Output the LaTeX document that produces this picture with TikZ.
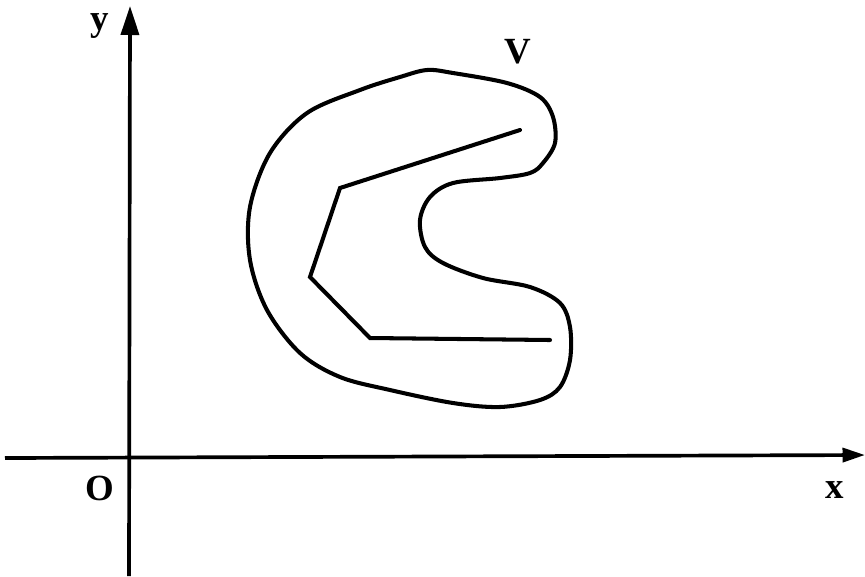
\documentclass[tikz,border=0pt]{standalone}
\usepackage{fontspec}
\setmainfont{Liberation Serif}
\usetikzlibrary{arrows.meta}

\begin{document}
\begin{tikzpicture}[
        x=0.02cm, y=-0.02cm,
        font=\fontsize{21}{25}\selectfont\bfseries,
        axis/.style={line width=2.1pt, black},
        curve/.style={line width=2.3pt, black, line join=round, line cap=round},
        lab/.style={inner sep=0pt, anchor=center}
    ]
    \useasboundingbox (0,0) rectangle (865,576);

    %% ---- axes ----
    \coordinate (ybot) at (129,576);
    \coordinate (ytop) at (130,6);
    \coordinate (xleft) at (5,458);
    \coordinate (xright) at (865,455);
    \draw[axis, -{Triangle[length=0.58cm, width=0.36cm]}] (ybot) -- (ytop);
    \draw[axis, -{Triangle[length=0.45cm, width=0.28cm]}] (xleft) -- (xright);

    \node[lab] (ylab) at (100,26) {y};
    \node[lab] (xlab) at (835,490) {x};
    \node[lab] (orig) at (100,488) {O};
    \node[lab] (vlab) at (518,52) {V};

    %% ---- region V ----
    \draw[curve] plot[smooth cycle, tension=0.55] coordinates {
        (427,70) (453,73) (507,83) (540,97) (553,117) (555,143)
        (543,163) (530,173) (500,178) (453,183) (430,197) (420,220)
        (425,247) (443,263) (483,278) (530,287) (560,303) (570,327)
        (570,360) (560,387) (540,400) (500,407) (453,403) (390,390)
        (340,377) (300,353) (267,310) (250,260) (250,207) (270,153)
        (307,113) (360,90) (400,77)};

    %% ---- inner polyline ----
    \draw[curve, line join=miter] (520,130) -- (340,188) -- (310,277)
        -- (370,338) -- (550,340);
\end{tikzpicture}
\end{document}
